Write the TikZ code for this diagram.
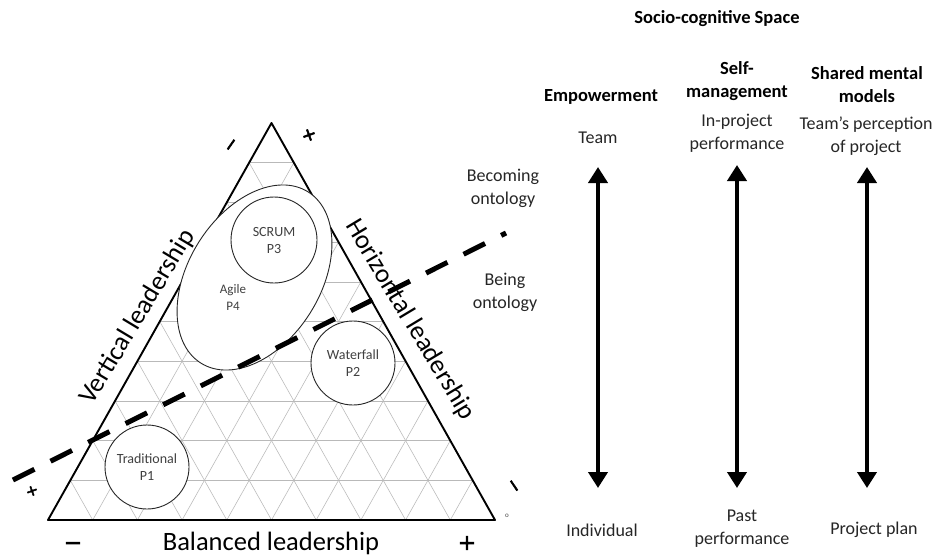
\documentclass[tikz,border=0pt]{standalone}
\usepackage{fontspec}
\setmainfont{Carlito}
\newfontfamily\signfont{DejaVu Sans}[FakeBold=3]
\usetikzlibrary{calc,arrows.meta,shapes.geometric}
\begin{document}
\begin{tikzpicture}[x=1pt,y=-1pt,
  gridline/.style={gray!55, line width=0.55pt},
  edge/.style={black, line width=1.9pt, line join=round},
  bubble/.style={circle, draw=black!85, line width=0.9pt, fill=white, minimum size=84pt, inner sep=0pt, align=center, font=\fontsize{14}{17}\selectfont, text=black!75},
  axislabel/.style={font=\fontsize{26.5}{30}\selectfont},
  sign/.style={font=\signfont\fontsize{22}{22}\selectfont, inner sep=0pt},
  smallsign/.style={font=\signfont\fontsize{18}{18}\selectfont, inner sep=0pt},
  tinysign/.style={font=\signfont\fontsize{15}{15}\selectfont, inner sep=0pt},
  head/.style={font=\bfseries\fontsize{18.5}{23}\selectfont, align=center},
  pole/.style={font=\fontsize{18}{23}\selectfont, align=center, text=black!85},
  dbl/.style={line width=4.5pt, {Triangle[width=19pt,length=16pt]}-{Triangle[width=19pt,length=16pt]}},
  divider/.style={line width=5pt, dash pattern=on 24pt off 18pt}]
\useasboundingbox (0,0) rectangle (935,555);
\fill[white] (0,0) rectangle (935,555);
% triangle corners
\coordinate (A) at (48,520);
\coordinate (B) at (495,520);
\coordinate (C) at (271.5,123);
% grid
\foreach \k in {1,...,9}{
  \pgfmathsetmacro\t{\k/10}
  \draw[gridline] ($(A)!\t!(C)$) -- ($(B)!\t!(C)$);
  \draw[gridline] ($(A)!\t!(B)$) -- ($(C)!\t!(B)$);
  \draw[gridline] ($(A)!\t!(B)$) -- ($(A)!\t!(C)$);
}
\draw[edge] (A) -- (B) -- (C) -- cycle;
% approaches
\node[ellipse, draw=black!85, line width=0.9pt, fill=white, minimum width=202pt, minimum height=132pt, inner sep=0pt, rotate=58] (p4) at (254.5,277.5) {};
\node[align=center, font=\fontsize{13}{17}\selectfont, text=black!75] (p4t) at (233,297) {Agile\\P4};
\node[bubble] (p1) at (147,467) {Traditional\\P1};
\node[bubble] (p2) at (353,363) {Waterfall\\P2};
\node[bubble, minimum size=86pt] (p3) at (274,240) {SCRUM\\P3};
% ontology divider
\coordinate (dl) at (13,480);
\coordinate (dr) at (506,233);
\draw[divider] (dl) -- (dr);
% axis labels
\node[axislabel, rotate=59] (vl) at (138,317) {Vertical leadership};
\node[axislabel, rotate=-59] (hl) at (410,320) {Horizontal leadership};
\node[axislabel] (bl) at (271,543) {Balanced leadership};
% signs
\node[sign] (s1) at (73,546) {−};
\node[sign] (s2) at (467,543) {+};
\node[smallsign, rotate=55] (s3) at (233,146) {−};
\node[smallsign, rotate=20] (s4) at (309,135) {+};
\node[tinysign, rotate=20] (s5) at (32,491) {+};
\node[smallsign, rotate=-56] (s6) at (512,487) {−};
\node[font=\fontsize{7}{7}\selectfont, text=black!70] (o) at (507,516) {o};
% ontology labels
\node[pole] (on1) at (503,188) {Becoming\\ontology};
\node[pole] (on2) at (505,292) {Being\\ontology};
% socio-cognitive space
\node[head] (title) at (717,19) {Socio-cognitive Space};
\node[head] (h1) at (601,97) {Empowerment};
\node[head] (h2) at (737,81) {Self-\\management};
\node[head] (h3) at (867,85) {Shared mental\\models};
\node[pole] (t1) at (598,138) {Team};
\node[pole] (t2) at (737,133) {In-project\\performance};
\node[pole] (t3) at (866,136) {Team’s perception\\of project};
\node[pole] (b1) at (602,530) {Individual};
\node[pole] (b2) at (742,529) {Past\\performance};
\node[pole] (b3) at (874,530) {Project plan};
\coordinate (a1t) at (598,167); \coordinate (a1b) at (598,488);
\coordinate (a2t) at (737,165); \coordinate (a2b) at (737,488);
\coordinate (a3t) at (867,167); \coordinate (a3b) at (867,488);
\draw[dbl] (a1t) -- (a1b);
\draw[dbl] (a2t) -- (a2b);
\draw[dbl] (a3t) -- (a3b);
\end{tikzpicture}
\end{document}
